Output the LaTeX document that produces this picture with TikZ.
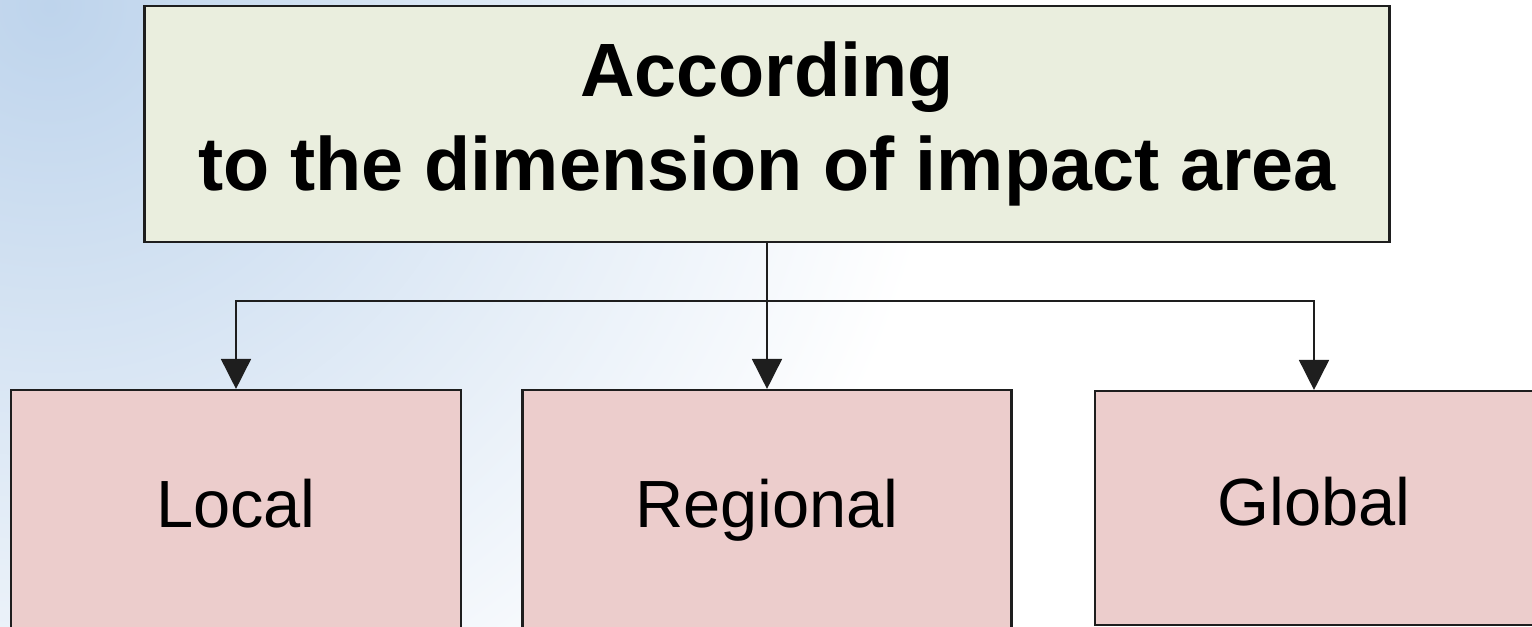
\documentclass[tikz,border=0pt]{standalone}
\usepackage{fontspec}
\setmainfont{Liberation Sans}
\usepackage{xcolor}
\usepackage{tikz}
\usetikzlibrary{arrows.meta, positioning}
\definecolor{skyblue}{RGB}{190, 212, 236}
\definecolor{headgreen}{RGB}{234, 238, 222}
\definecolor{kindrose}{RGB}{236, 205, 204}
\definecolor{edgegray}{RGB}{30, 30, 30}

\begin{document}
\begin{tikzpicture}[
    headbox/.style={draw=edgegray, line width=0.6pt, fill=headgreen, align=center,
      minimum width=12.45cm, minimum height=2.36cm, inner sep=0pt,
      font=\fontsize{21.5}{26.8}\selectfont\bfseries},
    kindbox/.style={draw=edgegray, line width=0.6pt, fill=kindrose, inner sep=0pt,
      text height=13.7pt, text depth=3.8pt,
      minimum height=2.4cm, font=\fontsize{19}{22}\selectfont},
    arr/.style={-{Triangle[length=3mm, width=3mm]}, line width=0.45pt, edgegray}
  ]
  \useasboundingbox (0,0) rectangle (15.32,6.26);
  \clip (0,0) rectangle (15.32,6.26);
  % background
  \fill[white] (0,0) rectangle (15.32,6.26);
  \shade[inner color=skyblue, outer color=white] (0.5,6.2) circle (9);
  % boxes
  \node[headbox] (top) at (7.67,5.02) {According\\to the dimension of impact area};
  \node[kindbox, minimum width=4.5cm] (local) at (2.36,1.16) {Local};
  \node[kindbox, minimum width=4.89cm] (regional) at (7.67,1.16) {Regional};
  \node[kindbox, minimum width=4.38cm, minimum height=2.34cm] (global) at (13.14,1.18) {Global};
  % connectors
  \coordinate (fork) at (7.67,3.25);
  \draw[arr] (top.south) -- (regional.north);
  \draw[arr] (fork) -| (local.north);
  \draw[arr] (fork) -| (global.north);
\end{tikzpicture}
\end{document}
